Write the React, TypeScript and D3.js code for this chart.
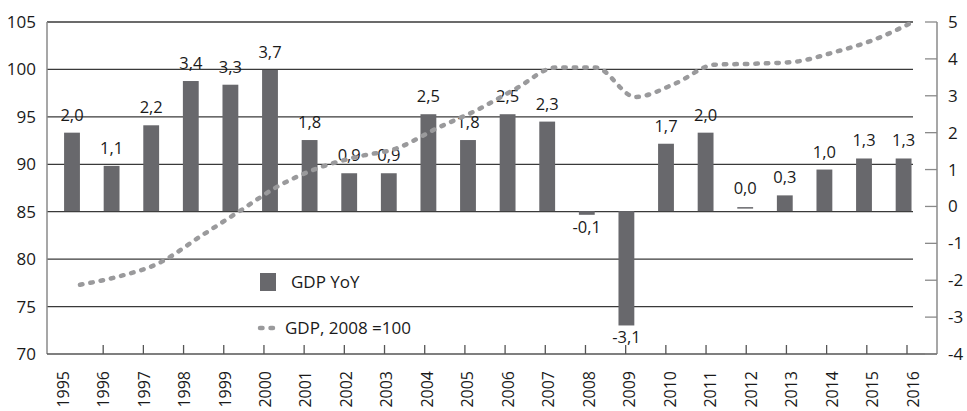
import * as d3 from 'd3'
import { useEffect, useRef } from 'react'

const W = 967
const H = 411
const plot = { left: 47, right: 937, top: 22, bottom: 354, gridEnd: 913 }

const years = [
  '1995', '1996', '1997', '1998', '1999', '2000', '2001', '2002', '2003', '2004', '2005',
  '2006', '2007', '2008', '2009', '2010', '2011', '2012', '2013', '2014', '2015', '2016',
]
// GDP YoY, %, right axis
const gdpYoY = [2.0, 1.1, 2.2, 3.4, 3.3, 3.7, 1.8, 0.9, 0.9, 2.5, 1.8, 2.5, 2.3, -0.1, -3.1, 1.7, 2.0, 0.0, 0.3, 1.0, 1.3, 1.3]
// GDP index, 2008 = 100, left axis
const gdpIndex = [77.3, 78.2, 79.6, 82.3, 85.0, 87.7, 89.6, 90.8, 91.7, 93.8, 95.7, 98.0, 100.2, 100.2, 97.1, 98.5, 100.5, 100.6, 100.8, 101.8, 103.1, 105.0]
const leftTicks = [70, 75, 80, 85, 90, 95, 100, 105]
const rightTicks = [-4, -3, -2, -1, 0, 1, 2, 3, 4, 5]

const barColor = '#68686c'
const lineColor = '#9a9a9c'
const font = '"Open Sans", sans-serif'

const fmt = (v: number) => v.toFixed(1).replace('.', ',')

export default function App() {
  const ref = useRef<SVGSVGElement>(null)

  useEffect(() => {
    document.body.style.margin = '0'
    const svg = d3.select(ref.current)
    svg.selectAll('*').remove()

    const yL = d3.scaleLinear().domain([70, 105]).range([plot.bottom, plot.top])
    const yR = d3.scaleLinear().domain([-4, 5]).range([plot.bottom, plot.top])
    const xBar = d3.scaleBand().domain(years).range([52.2, 923.4]).paddingInner(0.6).paddingOuter(0.3)
    const xLine = d3.scalePoint().domain(years).range([80, 913])
    const xTick = d3.scalePoint().domain(years).range([63, 907])
    const xLabel = d3.scalePoint().domain(years).range([63, 913])

    // bars sit on the 85 gridline (which is where 0 falls on the right axis)
    const base = yL(85) - 0.6
    // negative bars hang from the gridline, by their length on the right axis
    const negBottom = (d: number) => base + (yR(d) - yR(0))

    // gridlines
    svg
      .append('g')
      .selectAll('line')
      .data(leftTicks.filter((t) => t > 70))
      .enter()
      .append('line')
      .attr('x1', plot.left)
      .attr('x2', plot.gridEnd)
      .attr('y1', (d) => yL(d))
      .attr('y2', (d) => yL(d))
      .attr('stroke', '#3a3a3a')
      .attr('stroke-width', 1.3)

    // bars
    svg
      .append('g')
      .selectAll('rect')
      .data(gdpYoY)
      .enter()
      .append('rect')
      .attr('x', (d, i) => xBar(years[i]))
      .attr('width', xBar.bandwidth())
      .attr('y', (d) => (d > 0 ? yR(d) : d === 0 ? base - 4 : base))
      .attr('height', (d) => (d > 0 ? base - yR(d) : d === 0 ? 1.5 : negBottom(d) - base))
      .attr('fill', barColor)

    // bar labels
    svg
      .append('g')
      .selectAll('text')
      .data(gdpYoY)
      .enter()
      .append('text')
      .attr('x', (d, i) => xBar(years[i]) + xBar.bandwidth() / 2)
      .attr('y', (d) => (d >= 0 ? yR(d) - 12 : negBottom(d) + 18))
      .attr('text-anchor', 'middle')
      .attr('font-family', font)
      .attr('font-size', 16.5)
      .attr('fill', '#1a1a1a')
      .text((d) => fmt(d))

    // GDP index line
    const line = d3
      .line<number>()
      .x((d, i) => xLine(years[i]))
      .y((d) => yL(d))
      .curve(d3.curveMonotoneX)
    svg
      .append('path')
      .datum(gdpIndex)
      .attr('d', line)
      .attr('fill', 'none')
      .attr('stroke', lineColor)
      .attr('stroke-width', 4.5)
      .attr('stroke-linecap', 'round')
      .attr('stroke-dasharray', '2.5 8')

    // axes lines
    svg
      .append('line')
      .attr('x1', plot.left)
      .attr('x2', plot.left)
      .attr('y1', plot.top)
      .attr('y2', plot.bottom)
      .attr('stroke', '#8a8a8a')
      .attr('stroke-width', 1.5)
    svg
      .append('line')
      .attr('x1', plot.right)
      .attr('x2', plot.right)
      .attr('y1', plot.top)
      .attr('y2', plot.bottom)
      .attr('stroke', '#8a8a8a')
      .attr('stroke-width', 1.5)
    svg
      .append('line')
      .attr('x1', plot.left)
      .attr('x2', plot.right)
      .attr('y1', plot.bottom)
      .attr('y2', plot.bottom)
      .attr('stroke', '#555')
      .attr('stroke-width', 1.5)

    // left labels
    svg
      .append('g')
      .selectAll('text')
      .data(leftTicks)
      .enter()
      .append('text')
      .attr('x', 36)
      .attr('y', (d) => yL(d))
      .attr('dy', '0.35em')
      .attr('text-anchor', 'end')
      .attr('font-family', font)
      .attr('font-size', 17)
      .attr('fill', '#1a1a1a')
      .text((d) => d)

    // right ticks + labels
    const right = svg.append('g')
    right
      .selectAll('line')
      .data(rightTicks)
      .enter()
      .append('line')
      .attr('x1', plot.right - 12)
      .attr('x2', plot.right)
      .attr('y1', (d) => yR(d))
      .attr('y2', (d) => yR(d))
      .attr('stroke', '#8a8a8a')
      .attr('stroke-width', 1.3)
    right
      .selectAll('text')
      .data(rightTicks)
      .enter()
      .append('text')
      .attr('x', 948)
      .attr('y', (d) => yR(d))
      .attr('dy', '0.35em')
      .attr('font-family', font)
      .attr('font-size', 17)
      .attr('fill', '#1a1a1a')
      .text((d) => d)

    // x ticks + labels
    const bottom = svg.append('g')
    bottom
      .selectAll('line')
      .data(years.slice(1))
      .enter()
      .append('line')
      .attr('x1', (d) => xTick(d))
      .attr('x2', (d) => xTick(d))
      .attr('y1', plot.bottom - 9)
      .attr('y2', plot.bottom)
      .attr('stroke', '#555')
      .attr('stroke-width', 1.3)
    bottom
      .selectAll('text')
      .data(years)
      .enter()
      .append('text')
      .attr('transform', (d) => `translate(${xLabel(d)}, 371) rotate(-90)`)
      .attr('dy', '0.35em')
      .attr('text-anchor', 'end')
      .attr('font-family', font)
      .attr('font-size', 16)
      .attr('fill', '#1a1a1a')
      .text((d) => d)

    // legend
    const legend = svg.append('g').attr('font-family', font).attr('font-size', 17).attr('fill', '#1a1a1a')
    legend.append('rect').attr('x', 260).attr('y', 273).attr('width', 16).attr('height', 18).attr('fill', barColor)
    legend.append('text').attr('x', 291).attr('y', 282).attr('dy', '0.35em').text('GDP YoY')
    legend
      .append('line')
      .attr('x1', 260)
      .attr('x2', 276)
      .attr('y1', 328)
      .attr('y2', 328)
      .attr('stroke', lineColor)
      .attr('stroke-width', 4.5)
      .attr('stroke-linecap', 'round')
      .attr('stroke-dasharray', '2.5 8')
    legend.append('text').attr('x', 285).attr('y', 328).attr('dy', '0.35em').text('GDP, 2008 =100')
  }, [])

  return <svg ref={ref} width={W} height={H} style={{ display: 'block', background: '#fff' }} />
}
